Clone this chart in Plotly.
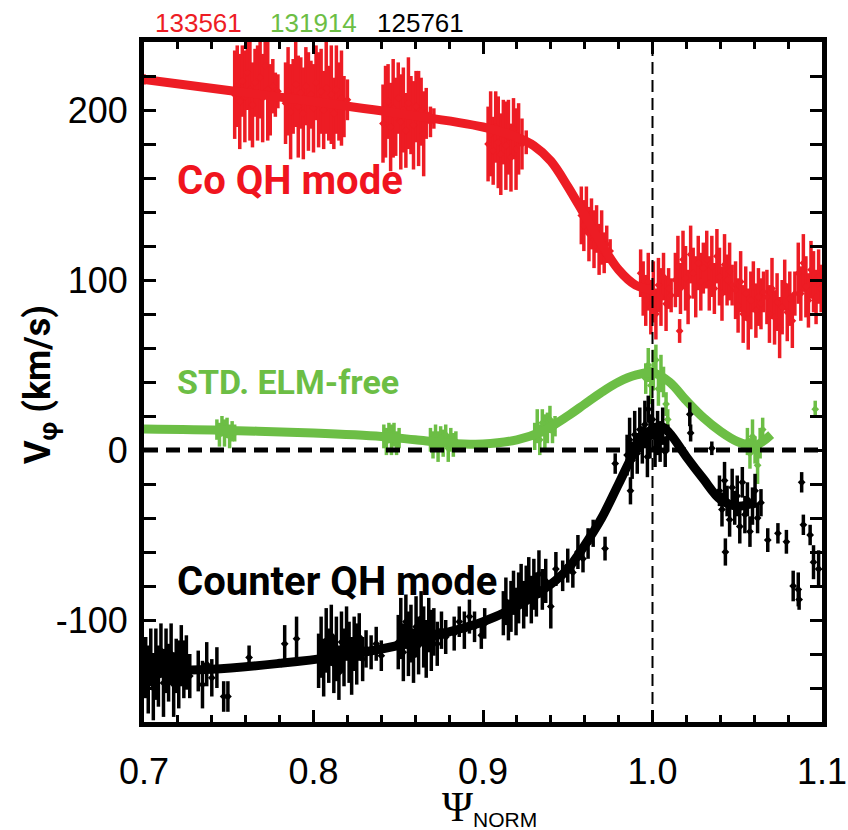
import plotly.graph_objects as go

# ---------------- data ----------------
shot_labels = ["133561", "131914", "125761"]
shot_label_x = [0.7324, 0.8000, 0.8634]

# Co QH mode (red) measurements
red_x = [0.700,
         0.7535, 0.7550, 0.7565, 0.7580, 0.7595, 0.7610, 0.7625, 0.7640, 0.7655, 0.7670, 0.7685, 0.7700, 0.7715, 0.7730, 0.7745, 0.7760, 0.7775, 0.7790,
         0.7835, 0.7850, 0.7865, 0.7880, 0.7895, 0.7910, 0.7925, 0.7940, 0.7955, 0.7970, 0.7985, 0.8000, 0.8015, 0.8030, 0.8045, 0.8060, 0.8075, 0.8090, 0.8105, 0.8120, 0.8135, 0.8150, 0.8165, 0.8180, 0.8200,
         0.8410, 0.8425, 0.8440, 0.8455, 0.8470, 0.8485, 0.8500, 0.8515, 0.8530, 0.8545, 0.8560, 0.8575, 0.8590, 0.8605, 0.8620, 0.8635, 0.8650, 0.8665, 0.8690, 0.8710,
         0.9030, 0.9045, 0.9060, 0.9075, 0.9090, 0.9105, 0.9120, 0.9135, 0.9150, 0.9165, 0.9180, 0.9195, 0.9210, 0.9230, 0.9255,
         0.9580, 0.9595, 0.9610, 0.9625, 0.9640, 0.9655, 0.9670, 0.9685, 0.9700, 0.9715, 0.9730, 0.9750,
         0.9930, 0.9945, 0.9960, 0.9975, 0.9990, 1.0005, 1.0020, 1.0035, 1.0050, 1.0065, 1.0080, 1.0095, 1.0110, 1.0160,
         1.0135, 1.0150, 1.0165, 1.0180, 1.0195, 1.0210, 1.0225, 1.0240, 1.0255, 1.0270, 1.0285, 1.0300,
         1.0320, 1.0335, 1.0350, 1.0365, 1.0380, 1.0395, 1.0410, 1.0425, 1.0440, 1.0455, 1.0470,
         1.0490, 1.0505, 1.0520, 1.0535, 1.0550, 1.0565, 1.0580, 1.0595, 1.0610, 1.0625, 1.0640, 1.0655,
         1.0675, 1.0690, 1.0705, 1.0720, 1.0735, 1.0750, 1.0765, 1.0780, 1.0795, 1.0810, 1.0825, 1.0840,
         1.0860, 1.0875, 1.0890, 1.0905, 1.0920, 1.0935, 1.0950, 1.0965, 1.0980, 1.0995]
red_y = [218,
         209, 214, 205, 217, 208, 222, 212, 203, 216, 210, 219, 207, 226, 212, 206, 214, 209, 211,
         204, 211, 199, 208, 215, 202, 210, 198, 214, 205, 209, 201, 216, 206, 211, 200, 213, 204, 209, 198, 212, 205, 207, 202, 206,
         192, 199, 205, 190, 201, 196, 207, 193, 200, 188, 204, 197, 191, 202, 195, 199, 186, 198, 193, 195,
         180, 186, 176, 190, 181, 174, 187, 179, 184, 172, 189, 177, 183, 180, 181,
         138, 132, 141, 127, 133, 124, 130, 118, 125, 116, 121, 117,
         104, 95, 88, 99, 84, 93, 80, 97, 90, 102, 86, 95, 91, 70,
         100, 108, 95, 112, 101, 90, 115, 104, 96, 110, 99, 107,
         112, 98, 108, 95, 114, 102, 92, 109, 100, 105, 97,
         94, 85, 99, 80, 92, 77, 88, 96, 82, 90, 86, 93,
         90, 80, 95, 78, 87, 72, 84, 97, 81, 89, 76, 92,
         104, 92, 110, 96, 88, 106, 99, 90, 102, 95]
red_err = [3,
           26, 24, 28, 21, 27, 22, 30, 25, 20, 28, 24, 26, 18, 30, 21, 16, 13, 10,
           24, 26, 28, 22, 25, 30, 21, 27, 23, 29, 20, 26, 22, 28, 25, 23, 27, 22, 29, 21, 26, 23, 28, 18, 12,
           23, 27, 22, 26, 29, 23, 21, 28, 25, 22, 27, 23, 26, 21, 28, 20, 25, 15, 9, 6,
           22, 25, 20, 21, 27, 24, 19, 26, 22, 20, 18, 24, 21, 15, 7,
           17, 15, 14, 16, 15, 17, 14, 15, 16, 12, 11, 7,
           14, 16, 15, 17, 16, 18, 15, 16, 17, 14, 16, 12, 10, 7,
           16, 18, 15, 17, 19, 16, 17, 15, 18, 16, 17, 15,
           17, 16, 18, 15, 16, 17, 16, 18, 15, 17, 12,
           17, 16, 18, 17, 16, 18, 17, 15, 16, 17, 15, 12,
           16, 17, 18, 16, 17, 18, 16, 15, 17, 16, 16, 13,
           18, 16, 17, 18, 16, 17, 18, 16, 16, 14]

# STD. ELM-free (green) measurements
green_x = [0.7430, 0.7445, 0.7460, 0.7475, 0.7490, 0.7505, 0.7520, 0.7535,
           0.8415, 0.8430, 0.8445, 0.8460, 0.8475, 0.8490, 0.8505,
           0.8690, 0.8705, 0.8720, 0.8735, 0.8750, 0.8765, 0.8780, 0.8795, 0.8810, 0.8825, 0.8840,
           0.9305, 0.9320, 0.9335, 0.9350, 0.9365, 0.9380, 0.9395, 0.9410, 0.9425,
           0.9960, 0.9975, 0.9990, 1.0005, 1.0020, 1.0035, 1.0050, 1.0065, 1.0080, 1.0090,
           1.0560, 1.0575, 1.0590, 1.0605, 1.0620, 1.0635, 1.0650,
           1.0960]
green_y = [12, 9, 14, 10, 13, 8, 11, 10,
           8, 5, 10, 6, 9, 4, 7,
           6, 3, 8, 2, 7, 4, 9, 1, 6, 3, 5,
           8, 14, 6, 16, 10, 13, 18, 11, 14,
           42, 50, 38, 47, 53, 36, 45, 40, 27, 18,
           5, -2, 8, 0, -9, 4, 12,
           24]
green_err = [6, 7, 6, 8, 6, 7, 6, 5,
             7, 8, 6, 9, 7, 7, 6,
             7, 8, 7, 9, 7, 8, 6, 8, 7, 7, 6,
             8, 10, 9, 8, 11, 9, 8, 7, 6,
             9, 10, 11, 12, 9, 10, 11, 9, 7, 6,
             8, 9, 10, 8, 11, 9, 7,
             5]

# Counter QH mode (black) measurements
black_x = [0.7010, 0.7025, 0.7040, 0.7055, 0.7070, 0.7085, 0.7100, 0.7115, 0.7130, 0.7145, 0.7160, 0.7175, 0.7190, 0.7205, 0.7220, 0.7235, 0.7250, 0.7270,
           0.7320, 0.7345, 0.7370, 0.7400, 0.7430, 0.7470, 0.7495,
           0.7620, 0.7830, 0.7900,
           0.8030, 0.8045, 0.8060, 0.8075, 0.8090, 0.8105, 0.8120, 0.8135, 0.8150, 0.8165, 0.8180, 0.8195, 0.8210, 0.8225, 0.8240, 0.8255, 0.8270, 0.8290, 0.8310, 0.8340, 0.8370, 0.8400,
           0.8500, 0.8515, 0.8530, 0.8545, 0.8560, 0.8575, 0.8590, 0.8605, 0.8620, 0.8635, 0.8650, 0.8665, 0.8680, 0.8695, 0.8710, 0.8730, 0.8755, 0.8780,
           0.8830, 0.8860, 0.8890, 0.8920, 0.8950, 0.8990, 0.9010,
           0.9120, 0.9135, 0.9150, 0.9165, 0.9180, 0.9195, 0.9210, 0.9225, 0.9240, 0.9255, 0.9270, 0.9285, 0.9300, 0.9315, 0.9330, 0.9350, 0.9370, 0.9400, 0.9430,
           0.9470, 0.9500, 0.9530, 0.9560, 0.9590, 0.9620, 0.9650, 0.9720,
           0.9780, 0.9870, 0.9850, 0.9865, 0.9880, 0.9895, 0.9910, 0.9925, 0.9940, 0.9955, 0.9970, 0.9975, 0.9985, 1.0000, 1.0015, 1.0030, 1.0045, 1.0060, 1.0075, 1.0090,
           1.0220, 1.0225, 1.0350,
           1.0395, 1.0410, 1.0425, 1.0440, 1.0455, 1.0470, 1.0485, 1.0500, 1.0515, 1.0530, 1.0545, 1.0560, 1.0575, 1.0590, 1.0605, 1.0620, 1.0640, 1.0430,
           1.0680, 1.0740, 1.0790, 1.0830, 1.0860, 1.0865, 1.0880, 1.0890, 1.0930, 1.0950, 1.0980]
black_y = [-128, -135, -122, -140, -126, -133, -118, -137, -124, -131, -120, -138, -127, -132, -121, -129, -125, -133,
           -130, -138, -126, -134, -128, -145, -145,
           -122, -114, -111,
           -124, -116, -128, -112, -121, -109, -126, -117, -131, -113, -122, -108, -119, -127, -114, -120, -110, -123, -117, -119, -114, -121,
           -113, -105, -119, -101, -114, -108, -121, -104, -115, -99, -110, -117, -103, -112, -107, -114, -106, -110,
           -108, -101, -106, -98, -104, -109, -102,
           -96, -89, -100, -92, -84, -95, -87, -80, -91, -83, -76, -88, -79, -85, -73, -82, -77, -92, -70,
           -74, -68, -72, -60, -64, -55, -49, -58,
           -8, -24, -3, 6, -6, 9, -2, 12, 3, 15, -4, 24, 8, 18, 1, 10, 5, 14, -1, 7,
           21, 10, 1,
           -24, -35, -18, -30, -41, -22, -34, -27, -45, -19, -38, -29, -48, -33, -24, -40, -31, -60,
           -53, -49, -54, -80, -82, -88, -19, -44, -50, -66, -70]
black_err = [18, 20, 17, 19, 21, 18, 16, 20, 19, 17, 18, 19, 16, 20, 18, 17, 16, 13,
             12, 14, 13, 11, 12, 9, 9,
             7, 11, 13,
             16, 18, 17, 19, 16, 18, 17, 19, 16, 18, 17, 16, 18, 17, 16, 18, 14, 13, 11, 10, 10, 9,
             16, 18, 17, 16, 19, 17, 16, 18, 17, 16, 18, 17, 16, 18, 14, 13, 11, 10,
             10, 9, 11, 10, 9, 8, 9,
             13, 14, 12, 15, 13, 14, 15, 13, 14, 15, 13, 14, 15, 13, 14, 12, 13, 13, 10,
             9, 10, 9, 10, 8, 9, 8, 7,
             6, 8, 12, 13, 11, 14, 12, 13, 11, 14, 12, 8, 13, 12, 11, 13, 12, 11, 9, 8,
             7, 5, 4,
             9, 10, 11, 9, 10, 11, 10, 12, 10, 9, 11, 10, 9, 11, 10, 9, 8, 8,
             7, 6, 7, 9, 10, 6, 6, 6, 6, 10, 11]

# fitted profiles
red_fit_x = [0.70, 0.75, 0.80, 0.85, 0.90, 0.92, 0.93, 0.94, 0.95, 0.96, 0.97, 0.98, 0.99, 1.00]
red_fit_y = [218, 211.5, 205, 198, 190, 184, 179, 170, 155, 138, 121, 106, 97, 94]
green_fit_x = [0.70, 0.75, 0.80, 0.84, 0.86, 0.88, 0.90, 0.92, 0.935, 0.95, 0.96, 0.97, 0.98, 0.99, 1.00,
               1.01, 1.02, 1.03, 1.04, 1.05, 1.06, 1.065, 1.07]
green_fit_y = [12.3, 11.5, 10, 8, 6, 4, 3.5, 6, 11, 20, 27, 34, 40, 44, 45.5,
               40, 29, 19, 11, 5, 2.5, 5, 9]
black_fit_x = [0.70, 0.74, 0.78, 0.81, 0.85, 0.88, 0.90, 0.92, 0.94, 0.95, 0.96, 0.97, 0.98, 0.99, 0.998,
               1.005, 1.01, 1.02, 1.03, 1.04, 1.05, 1.06]
black_fit_y = [-130, -129, -125.5, -122, -115, -107, -101, -92, -79, -70, -56, -40, -20, 0, 11,
               14, 10, -4, -17, -29, -33, -31]

x_ticks = [0.7, 0.8, 0.9, 1.0, 1.1]
x_ticktext = ["0.7", "0.8", "0.9", "1.0", "1.1"]
y_ticks = [-100, 0, 100, 200]
y_ticktext = ["-100", "0", "100", "200"]

RED = "#ed1c24"
GREEN = "#6cbe45"
BLACK = "#000000"

fig = go.Figure()


def add_data(x, y, e, color):
    fig.add_trace(go.Scatter(
        x=x, y=y, mode="markers",
        marker=dict(symbol="diamond", size=6, color=color),
        error_y=dict(type="data", array=e, visible=True, thickness=3.5, width=0, color=color),
        showlegend=False, hoverinfo="skip"))


def add_fit(x, y, color, w):
    fig.add_trace(go.Scatter(
        x=x, y=y, mode="lines", line=dict(color=color, width=w, shape="spline", smoothing=1.0),
        showlegend=False, hoverinfo="skip"))


add_data(red_x, red_y, red_err, RED)
add_fit(red_fit_x, red_fit_y, RED, 9)
add_data(green_x, green_y, green_err, GREEN)
add_fit(green_fit_x, green_fit_y, GREEN, 9)
add_data(black_x, black_y, black_err, BLACK)
add_fit(black_fit_x, black_fit_y, BLACK, 9)

# reference lines
fig.add_shape(type="line", xref="paper", yref="y", x0=0, x1=1, y0=0, y1=0,
              line=dict(color="black", width=5, dash="14px,8px"), layer="above")
fig.add_shape(type="line", xref="x", yref="paper", x0=1.0, x1=1.0, y0=0, y1=1,
              line=dict(color="black", width=2, dash="12px,6px"), layer="above")

axis_common = dict(showgrid=False, zeroline=False, showline=True, linewidth=5, linecolor="black",
                   mirror="allticks", ticks="inside", tickwidth=2.5, tickcolor="black", automargin=False)

fig.update_xaxes(range=[0.7, 1.1], tickvals=x_ticks, ticktext=x_ticktext, ticklen=12,
                 tickfont=dict(family="Liberation Sans, Arial, sans-serif", size=36, color="black"),
                 minor=dict(tick0=0.7, dtick=0.02, ticks="inside", ticklen=7, tickwidth=2.5, tickcolor="black"),
                 ticklabelstandoff=14, ticklabeloverflow="allow", **axis_common)
fig.update_yaxes(range=[-160, 240], tickvals=y_ticks, ticktext=y_ticktext, ticklen=12,
                 tickfont=dict(family="Liberation Sans, Arial, sans-serif", size=36, color="black"),
                 minor=dict(tick0=0, dtick=20, ticks="inside", ticklen=12, tickwidth=2.5, tickcolor="black"),
                 ticklabelstandoff=4, **axis_common)

annotations = []
for lab, xx, col in zip(shot_labels, shot_label_x, [RED, GREEN, BLACK]):
    annotations.append(dict(x=xx, y=1.028, xref="x", yref="paper", text=lab, showarrow=False,
                            xanchor="center", yanchor="middle",
                            font=dict(family="Liberation Sans, Arial, sans-serif", size=26, color=col)))

label_font = "Roboto, Liberation Sans, sans-serif"
annotations.append(dict(x=0.7183, y=158.8, xref="x", yref="y", text="<b>Co QH mode</b>", showarrow=False,
                        xanchor="left", yanchor="middle", font=dict(family=label_font, size=40, color="#f0141e")))
annotations.append(dict(x=0.7183, y=40, xref="x", yref="y", text="<b>STD. ELM-free</b>", showarrow=False,
                        xanchor="left", yanchor="middle", font=dict(family=label_font, size=34, color=GREEN)))
annotations.append(dict(x=0.7183, y=-77.6, xref="x", yref="y", text="<b>Counter QH mode</b>", showarrow=False,
                        xanchor="left", yanchor="middle", font=dict(family=label_font, size=40, color=BLACK)))

annotations.append(dict(x=-0.153, y=0.496, xref="paper", yref="paper", text="<b>V<sub>φ</sub> (km/s)</b>",
                        showarrow=False, textangle=-90, xanchor="center", yanchor="middle",
                        font=dict(family=label_font, size=36, color="black")))
annotations.append(dict(x=0.51, y=-0.126, xref="paper", yref="paper",
                        text='<span style="font-family:Liberation Serif, serif;font-size:42px">Ψ</span><sub>NORM</sub>',
                        showarrow=False, xanchor="center", yanchor="middle",
                        font=dict(family="Liberation Sans, Arial, sans-serif", size=30, color="black")))

fig.update_layout(width=848, height=830, margin=dict(l=144, r=26, t=42, b=108),
                  plot_bgcolor="white", paper_bgcolor="white", annotations=annotations, showlegend=False)

fig.write_html("out.html")
